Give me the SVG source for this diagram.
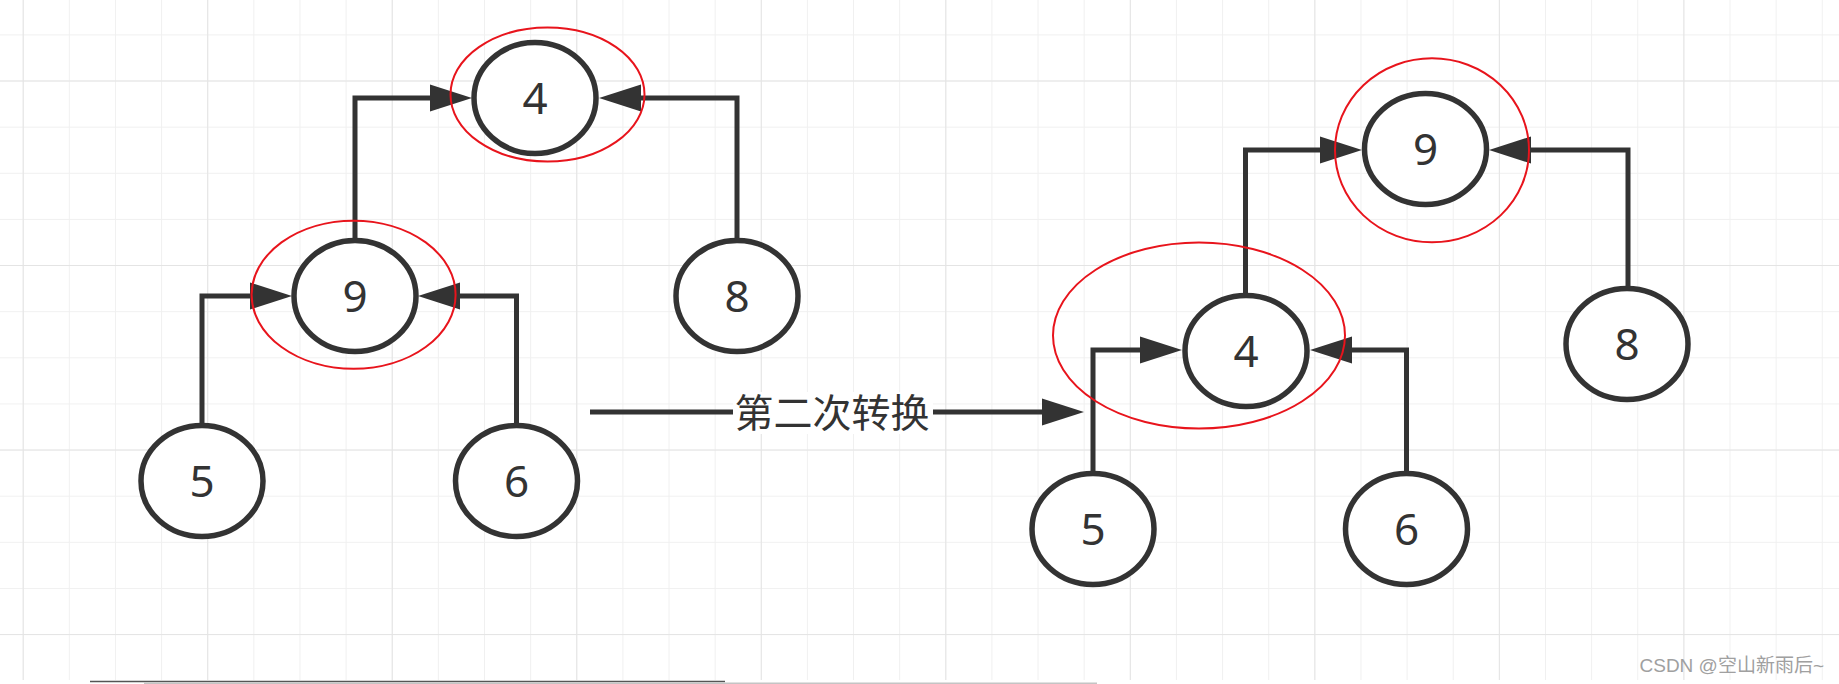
<svg xmlns="http://www.w3.org/2000/svg" width="1839" height="684" viewBox="0 0 1839 684">
<style>
.node{fill:#ffffff;stroke:#333333;stroke-width:5.5}
.num{font-family:"Noto Sans","Open Sans","Liberation Sans",sans-serif;font-size:44px;fill:#333333;text-anchor:middle}
.hl{fill:none;stroke:#e8141c;stroke-width:2}
.edge{fill:none;stroke:#333333;stroke-width:5;stroke-linejoin:miter;stroke-linecap:butt}
.lbl{font-family:"Noto Sans CJK SC","Noto Sans",sans-serif;font-size:39px;fill:#333333;text-anchor:middle}
.wm{font-family:"Liberation Sans","Noto Sans CJK SC",sans-serif;font-size:19px;fill:#a0a0a0;text-anchor:end}
</style>
<defs>
<pattern id="gMinor" x="22.7" y="34.4" width="46.13" height="46.13" patternUnits="userSpaceOnUse">
<path d="M0.5,0 V46.13 M0,0.5 H46.13" fill="none" stroke="#f0f0f0" stroke-width="1"/>
</pattern>
<pattern id="gMajor" x="22.7" y="80.5" width="184.52" height="184.52" patternUnits="userSpaceOnUse">
<path d="M0.5,0 V184.52 M0,0.5 H184.52" fill="none" stroke="#e4e4e4" stroke-width="1"/>
</pattern>
<marker id="arr" markerUnits="userSpaceOnUse" markerWidth="44" markerHeight="30" refX="0" refY="15" orient="auto" overflow="visible">
<path d="M0,1.5 L42,15 L0,28.5 Z" fill="#333333"/>
</marker>
</defs>
<rect width="1839" height="684" fill="#ffffff"/>
<rect width="1839" height="680" fill="url(#gMinor)"/>
<rect width="1839" height="680" fill="url(#gMajor)"/>
<line x1="90" y1="681.5" x2="725" y2="681.5" stroke="#555555" stroke-width="1.5"/>
<line x1="144" y1="683.3" x2="1097" y2="683.3" stroke="#c4c4c4" stroke-width="1.5"/>

<g id="connectors">
<path class="edge" d="M355,241 V98 H430" marker-end="url(#arr)"/>
<path class="edge" d="M737,241 V98 H641" marker-end="url(#arr)"/>
<path class="edge" d="M202,426 V296 H250" marker-end="url(#arr)"/>
<path class="edge" d="M516.5,426 V296 H460" marker-end="url(#arr)"/>
<path class="edge" d="M1245.5,296 V150 H1320" marker-end="url(#arr)"/>
<path class="edge" d="M1628,289 V150 H1531" marker-end="url(#arr)"/>
<path class="edge" d="M1093,474 V350 H1140" marker-end="url(#arr)"/>
<path class="edge" d="M1406.5,474 V350 H1352" marker-end="url(#arr)"/>
<path class="edge" d="M590,412 H1042" marker-end="url(#arr)"/>
<rect x="733" y="392" width="200" height="42" fill="#ffffff"/>
<text class="lbl" x="832" y="427">第二次转换</text>
</g>

<g id="left-4"><ellipse class="node" cx="535" cy="98" rx="61" ry="55.5"/><text class="num" x="535" y="114">4</text></g>
<g id="left-9"><ellipse class="node" cx="355" cy="296" rx="61" ry="55.5"/><text class="num" x="355" y="312">9</text></g>
<g id="left-8"><ellipse class="node" cx="737" cy="296" rx="61" ry="55.5"/><text class="num" x="737" y="312">8</text></g>
<g id="left-5"><ellipse class="node" cx="202" cy="481" rx="61" ry="55.5"/><text class="num" x="202" y="497">5</text></g>
<g id="left-6"><ellipse class="node" cx="516.5" cy="481" rx="61" ry="55.5"/><text class="num" x="516.5" y="497">6</text></g>

<g id="right-9"><ellipse class="node" cx="1425.5" cy="149" rx="61" ry="55.5"/><text class="num" x="1425.5" y="165">9</text></g>
<g id="right-4"><ellipse class="node" cx="1246" cy="351" rx="61" ry="55.5"/><text class="num" x="1246" y="367">4</text></g>
<g id="right-8"><ellipse class="node" cx="1627" cy="344" rx="61" ry="55.5"/><text class="num" x="1627" y="360">8</text></g>
<g id="right-5"><ellipse class="node" cx="1093" cy="529" rx="61" ry="55.5"/><text class="num" x="1093" y="545">5</text></g>
<g id="right-6"><ellipse class="node" cx="1406.5" cy="529" rx="61" ry="55.5"/><text class="num" x="1406.5" y="545">6</text></g>

<g id="highlight-left-4"><ellipse class="hl" cx="547.5" cy="94.5" rx="97" ry="67"/></g>
<g id="highlight-left-9"><ellipse class="hl" cx="353.6" cy="294.7" rx="102" ry="74"/></g>
<g id="highlight-right-9"><ellipse class="hl" cx="1432" cy="150.3" rx="97" ry="92"/></g>
<g id="highlight-right-4"><ellipse class="hl" cx="1199" cy="335.5" rx="146" ry="93"/></g>

<text class="wm" x="1824" y="672">CSDN @空山新雨后~</text>
</svg>
